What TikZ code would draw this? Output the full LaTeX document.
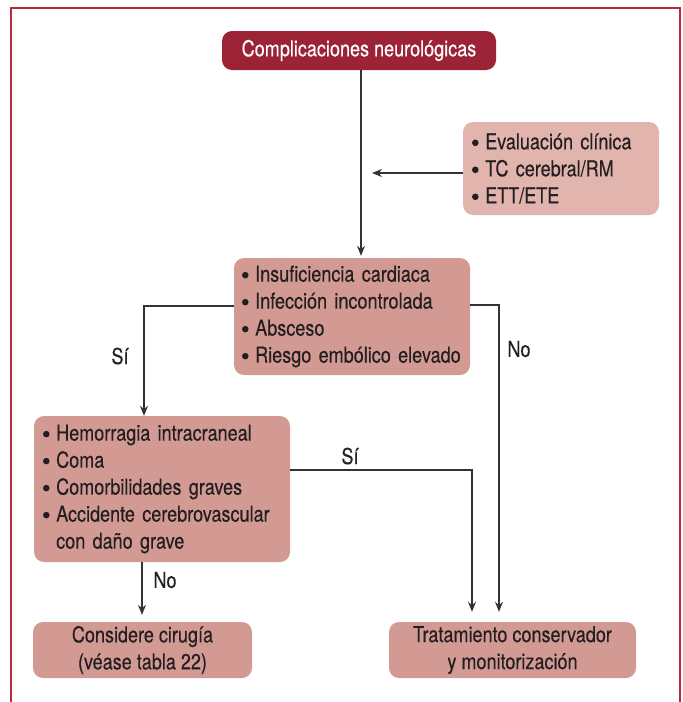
\documentclass[tikz,border=0pt]{standalone}
\usepackage{fontspec}
\setmainfont{TeX Gyre Heros}[FakeStretch=0.82,FakeBold=0.3]
\usetikzlibrary{arrows.meta}
\definecolor{frame}{HTML}{B8283F}
\definecolor{dark}{HTML}{9C2236}
\definecolor{mid}{HTML}{D39A94}
\definecolor{light}{HTML}{E2B4AE}
\definecolor{ink}{HTML}{231F20}
\definecolor{wire}{HTML}{333333}
\newcommand\bul{\tikz[baseline={(0pt,-6.5pt)}]\fill[ink] (0pt,0pt) circle (3.3pt);\hspace{0.3em}}
\begin{document}
\begin{tikzpicture}[x=1pt,y=-1pt,
  font=\fontsize{22}{27}\selectfont,
  box/.style={rounded corners=10pt, draw=none, text=ink, inner sep=0pt},
  listbox/.style={box, align=left, inner xsep=9pt},
  arr/.style={draw=wire, line width=1.1pt, -{Stealth[length=10pt,width=8pt]}},
  lbl/.style={text=ink, inner sep=0pt}]
\useasboundingbox (0,0) rectangle (683,702);
\draw[frame, line width=1.5pt] (11,702) -- (11,8) -- (680,8) -- (680,702);

\node[box, fill=dark, text=white, minimum width=274pt, minimum height=39pt] (top) at (359,50.5) {Complicaciones neurológicas};
\node[listbox, fill=light, text width=178pt, minimum height=93pt] (eval) at (561,168.5)
  {\bul Evaluación clínica\\ \bul TC cerebral/RM\\ \bul ETT/ETE};
\node[listbox, fill=mid, text width=220pt, inner xsep=8pt, minimum height=117pt] (insuf) at (352,316.5)
  {\bul Insuficiencia cardiaca\\ \bul Infección incontrolada\\ \bul Absceso\\ \bul Riesgo embólico elevado};
\node[listbox, fill=mid, text width=238pt, minimum height=146pt] (hemo) at (162,489)
  {\bul Hemorragia intracraneal\\ \bul Coma\\ \bul Comorbilidades graves\\ \bul Accidente cerebrovascular\\ \phantom{\bul}con daño grave};
\node[box, fill=mid, align=center, minimum width=219pt, minimum height=56pt] (cons) at (142.5,650)
  {Considere cirugía\\(véase tabla 22)};
\node[box, fill=mid, align=center, minimum width=247pt, minimum height=56pt] (trat) at (512.5,650)
  {Tratamiento conservador\\y monitorización};

\coordinate (evalend) at (372,173);
\draw[arr] (top.south -| 361,0) -- ([xshift=9pt,yshift=2pt]insuf.north);
\draw[arr] (eval.west |- evalend) -- (evalend);
\draw[arr] (insuf.west |- 0,306) -| ([xshift=-18pt]hemo.north);
\draw[arr, shorten >=10pt] (insuf.east |- 0,305) -| ([xshift=-13.5pt]trat.north);
\draw[arr, shorten >=10pt] (hemo.east |- 0,470) -| ([xshift=-40.5pt]trat.north);
\draw[arr, shorten >=7pt] (hemo.south -| 142,0) -- (cons.north -| 142,0);

\node[lbl] (si1) at (120,356) {Sí};
\node[lbl] (no1) at (519,349) {No};
\node[lbl] (si2) at (350,456) {Sí};
\node[lbl] (no2) at (165,580) {No};
\end{tikzpicture}
\end{document}
